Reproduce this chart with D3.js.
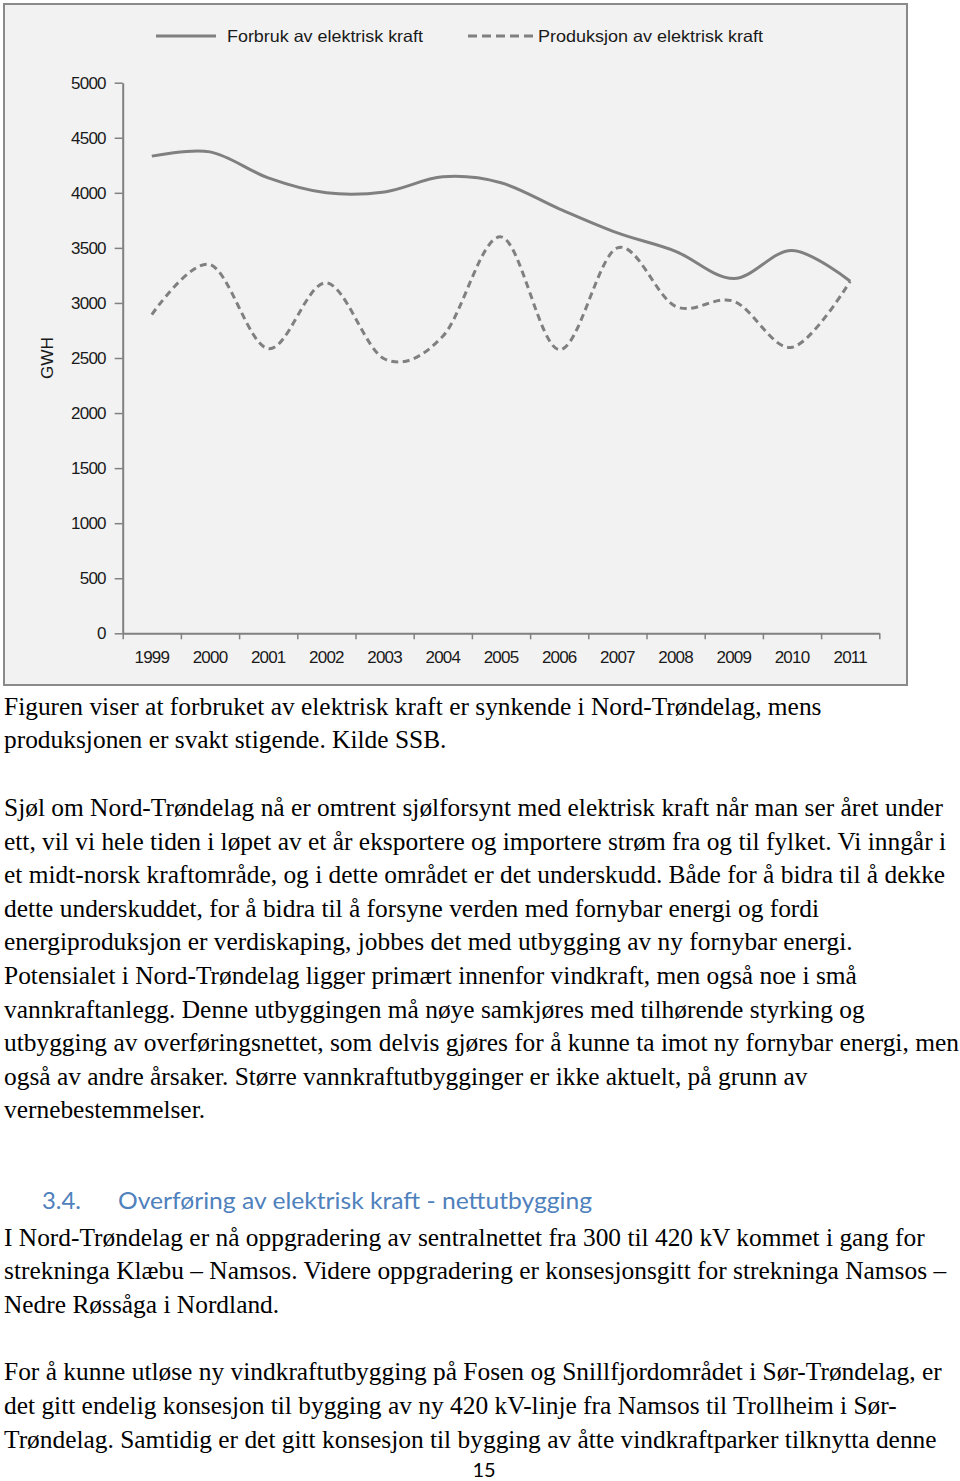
<!DOCTYPE html>
<html><head><meta charset="utf-8">
<script src="https://cdn.jsdelivr.net/npm/d3@7"></script>
<style>body{margin:0;background:#fff}svg{display:block}</style>
</head><body>
<script>
const years = ["1999","2000","2001","2002","2003","2004","2005","2006","2007","2008","2009","2010","2011"];
const forbruk = [4333,4372,4136,4000,4008,4145,4091,3855,3636,3469,3221,3476,3197];
const produksjon = [2894,3348,2585,3182,2491,2697,3600,2576,3500,2969,3015,2597,3197];
const yTicks = [0,500,1000,1500,2000,2500,3000,3500,4000,4500,5000];
const seriesNames = ["Forbruk av elektrisk kraft","Produksjon av elektrisk kraft"];
const yLabel = "GWH";

const bodyLines = [
 ["Figuren viser at forbruket av elektrisk kraft er synkende i Nord-Trøndelag, mens",715],
 ["produksjonen er svakt stigende. Kilde SSB.",748],
 ["Sjøl om Nord-Trøndelag nå er omtrent sjølforsynt med elektrisk kraft når man ser året under",816],
 ["ett, vil vi hele tiden i løpet av et år eksportere og importere strøm fra og til fylket. Vi inngår i",850],
 ["et midt-norsk kraftområde, og i dette området er det underskudd. Både for å bidra til å dekke",883],
 ["dette underskuddet, for å bidra til å forsyne verden med fornybar energi og fordi",917],
 ["energiproduksjon er verdiskaping, jobbes det med utbygging av ny fornybar energi.",950],
 ["Potensialet i Nord-Trøndelag ligger primært innenfor vindkraft, men også noe i små",984],
 ["vannkraftanlegg. Denne utbyggingen må nøye samkjøres med tilhørende styrking og",1018],
 ["utbygging av overføringsnettet, som delvis gjøres for å kunne ta imot ny fornybar energi, men",1051],
 ["også av andre årsaker. Større vannkraftutbygginger er ikke aktuelt, på grunn av",1085],
 ["vernebestemmelser.",1118],
 ["I Nord-Trøndelag er nå oppgradering av sentralnettet fra 300 til 420 kV kommet i gang for",1246],
 ["strekninga Klæbu – Namsos. Videre oppgradering er konsesjonsgitt for strekninga Namsos –",1279],
 ["Nedre Røssåga i Nordland.",1313],
 ["For å kunne utløse ny vindkraftutbygging på Fosen og Snillfjordområdet i Sør-Trøndelag, er",1380],
 ["det gitt endelig konsesjon til bygging av ny 420 kV-linje fra Namsos til Trollheim i Sør-",1414],
 ["Trøndelag. Samtidig er det gitt konsesjon til bygging av åtte vindkraftparker tilknytta denne",1448]
];

const svg = d3.select("body").append("svg").attr("width",960).attr("height",1481);

// chart frame
svg.append("rect").attr("x",4).attr("y",4).attr("width",903).attr("height",681)
  .attr("fill","#f2f2f2").attr("stroke","#8a8a8a").attr("stroke-width",2);

const pLeft = 122.7, pRight = 879.3, pTop = 82.7, pBottom = 633.3;
const x = d3.scaleBand().domain(years).range([pLeft,pRight]);
const xEdge = d3.scaleLinear().domain([0,years.length]).range([pLeft,pRight]);
const y = d3.scaleLinear().domain([0,5000]).range([pBottom,pTop]);
const cx = d => x(d) + x.bandwidth()/2;
const chartFont = "'Liberation Sans', Arial, sans-serif";
const gray = "#808080";
const ink = "#1a1a1a";

// y axis
const ya = svg.append("g").attr("transform",`translate(${pLeft},0)`)
  .call(d3.axisLeft(y).tickValues(yTicks).tickFormat(d3.format("d")).tickSize(8).tickPadding(9).tickSizeOuter(0));
ya.select(".domain").attr("stroke",gray).attr("stroke-width",2);
ya.selectAll(".tick line").attr("stroke",gray).attr("stroke-width",1.5);
ya.selectAll(".tick text").attr("font-family",chartFont).attr("font-size",17).attr("fill",ink).attr("letter-spacing",-0.8);

// x axis tick marks at band edges
const xa = svg.append("g").attr("transform",`translate(0,${pBottom})`)
  .call(d3.axisBottom(xEdge).tickValues(d3.range(years.length+1)).tickFormat("").tickSize(6).tickSizeOuter(0));
xa.select(".domain").attr("stroke",gray).attr("stroke-width",2);
xa.selectAll(".tick line").attr("stroke",gray).attr("stroke-width",1.5);
// x labels
const xl = svg.append("g").attr("transform",`translate(0,${pBottom})`)
  .call(d3.axisBottom(x).tickSize(0).tickPadding(18));
xl.select(".domain").remove();
xl.selectAll(".tick text").attr("font-family",chartFont).attr("font-size",17).attr("fill",ink).attr("letter-spacing",-0.8);

// y label
svg.append("text").attr("transform","translate(53,358) rotate(-90)").attr("text-anchor","middle")
  .attr("font-family",chartFont).attr("font-size",16).attr("fill",ink).attr("textLength",42).attr("lengthAdjust","spacingAndGlyphs").text(yLabel);

// lines
const line = d3.line().x((d,i)=>cx(years[i])).y(d=>y(d)).curve(d3.curveCardinal.tension(0));
svg.append("path").attr("d",line(forbruk)).attr("fill","none").attr("stroke",gray).attr("stroke-width",3);
svg.append("path").attr("d",line(produksjon)).attr("fill","none").attr("stroke",gray).attr("stroke-width",3)
  .attr("stroke-dasharray","7,4.5");

// legend
const lg = svg.append("g");
lg.append("line").attr("x1",156).attr("x2",216).attr("y1",36).attr("y2",36).attr("stroke",gray).attr("stroke-width",3);
lg.append("text").attr("x",227).attr("y",42).attr("font-family",chartFont).attr("font-size",16.5).attr("fill",ink)
  .attr("textLength",196).attr("lengthAdjust","spacingAndGlyphs").text(seriesNames[0]);
lg.append("line").attr("x1",468).attr("x2",534).attr("y1",36).attr("y2",36).attr("stroke",gray).attr("stroke-width",3).attr("stroke-dasharray","9,5");
lg.append("text").attr("x",538).attr("y",42).attr("font-family",chartFont).attr("font-size",16.5).attr("fill",ink)
  .attr("textLength",225).attr("lengthAdjust","spacingAndGlyphs").text(seriesNames[1]);

// body text
const serif = "'Liberation Serif','Times New Roman',serif";
const probe = svg.append("text").attr("font-family",serif).attr("font-size",100).text(bodyLines[0][0]);
const w100 = probe.node().getComputedTextLength(); probe.remove();
const fs = 100*818/w100;
svg.append("g").selectAll("text").data(bodyLines).join("text")
  .attr("x",4).attr("y",d=>d[1]).attr("font-family",serif).attr("font-size",fs).attr("fill","#000").text(d=>d[0]);

// heading
const sans = "Lato,'Open Sans',sans-serif";
svg.append("text").attr("x",42).attr("y",1209).attr("font-family",sans).attr("font-size",23).attr("fill","#4f81bd")
  .attr("textLength",39).attr("lengthAdjust","spacingAndGlyphs").text("3.4.");
svg.append("text").attr("x",118).attr("y",1209).attr("font-family",sans).attr("font-size",23).attr("fill","#4f81bd")
  .attr("textLength",474).attr("lengthAdjust","spacingAndGlyphs").text("Overføring av elektrisk kraft - nettutbygging");
// page number
svg.append("text").attr("x",484).attr("y",1477).attr("text-anchor","middle").attr("font-family",sans).attr("font-size",20).attr("fill","#000").text("15");
</script>
</body></html>
